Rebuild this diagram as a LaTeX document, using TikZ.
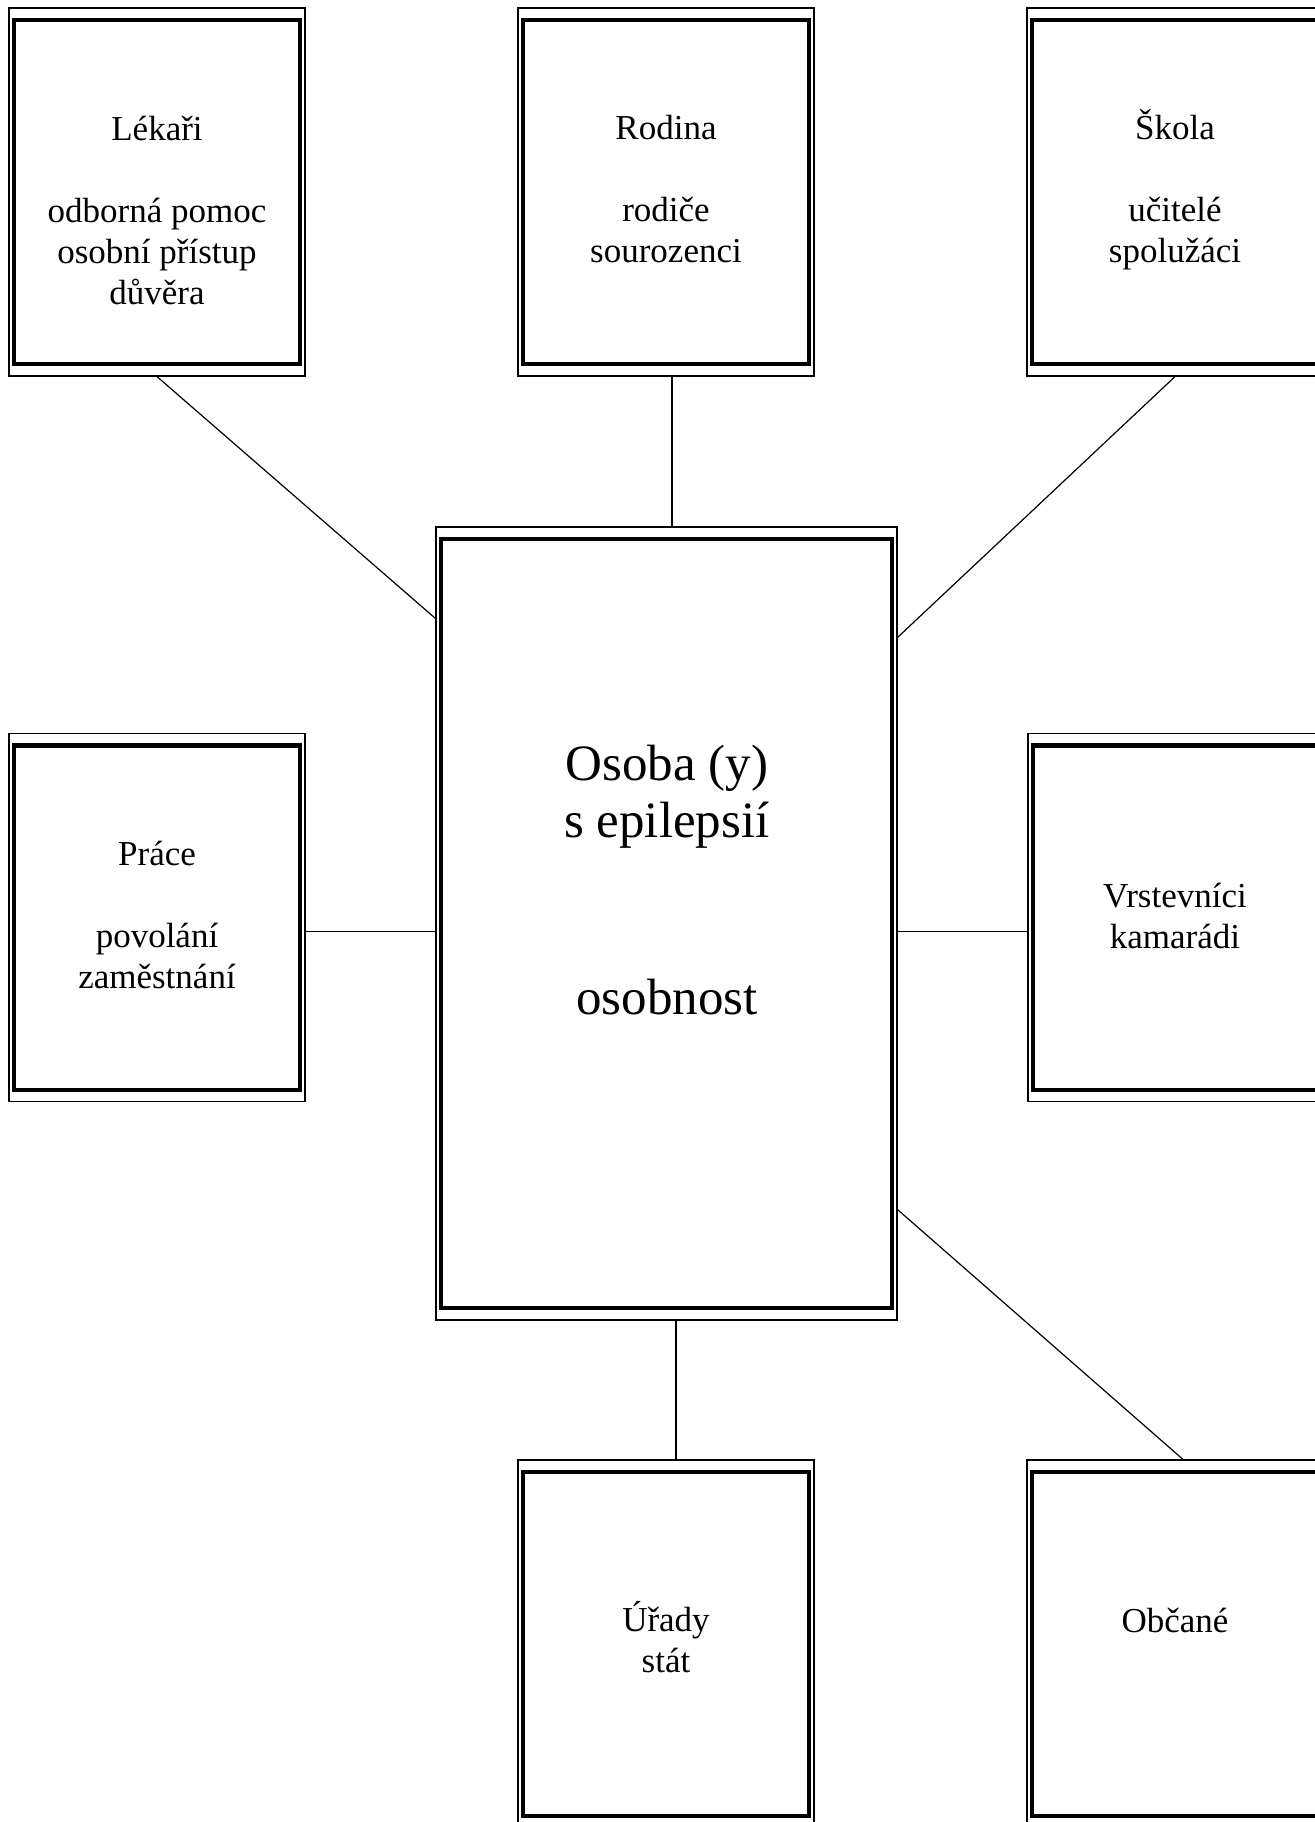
\documentclass[tikz,border=0pt]{standalone}
\usepackage{fontspec}
\setmainfont{Liberation Serif}
\usetikzlibrary{positioning}

\begin{document}
\begin{tikzpicture}[x=0.5pt, y=-0.5pt,
    box/.style={rectangle, draw=black, line width=0.6pt, inner sep=0pt, minimum width=148pt, minimum height=184pt,
        path picture={\draw[line width=2.2pt] ([xshift=2.4pt,yshift=-5.9pt]path picture bounding box.north west) rectangle ([xshift=-2.4pt,yshift=5.9pt]path picture bounding box.south east);}},
    bigbox/.style={box, minimum width=230.5pt, minimum height=396.5pt},
    txt/.style={align=center, inner sep=0pt, font=\fontsize{17.5pt}{20.5pt}\selectfont},
    bigtxt/.style={align=center, inner sep=0pt, font=\fontsize{25.5pt}{28.5pt}\selectfont},
    link/.style={draw=black, line width=0.6pt}]

    \useasboundingbox (0,0) rectangle (1314,1822);

    \node[bigbox] (osoba) at (666.5,923.5) {};
    \node[box] (lek) at (157,192) {};
    \node[box] (rod) at (666,192) {};
    \node[box] (sko) at (1175,192) {};
    \node[box] (pra) at (157,917.5) {};
    \node[box] (vrs) at (1176,917.5) {};
    \node[box] (ura) at (666,1644) {};
    \node[box] (obc) at (1175,1644) {};

    \node[bigtxt] (osobat) at (667,880) {Osoba (y)\\s epilepsií\\[60pt]osobnost};
    \node[txt] (lekt) at (157,210.5) {Lékaři\\[20.5pt]odborná pomoc\\osobní přístup\\důvěra};
    \node[txt] (rodt) at (666,189.5) {Rodina\\[20.5pt]rodiče\\sourozenci};
    \node[txt] (skot) at (1175,189.5) {Škola\\[20.5pt]učitelé\\spolužáci};
    \node[txt] (prat) at (157,915) {Práce\\[20.5pt]povolání\\zaměstnání};
    \node[txt] (vrst) at (1175,916) {Vrstevníci\\kamarádi};
    \node[txt] (urat) at (666,1637) {Úřady\\stát};
    \node[txt] (obct) at (1175,1620) {Občané};

    \draw[link] (lek.south) -- ([yshift=-46pt]osoba.north west);
    \draw[link] ([xshift=3pt]rod.south) -- ([xshift=3pt]rod.south |- osoba.north);
    \draw[link] (sko.south) -- ([yshift=-55.5pt]osoba.north east);
    \draw[link] ([yshift=-7pt]pra.east) -- ([yshift=-7pt]pra.east -| osoba.west);
    \draw[link] ([yshift=-7pt]vrs.west) -- ([yshift=-7pt]vrs.west -| osoba.east);
    \draw[link] ([yshift=55.5pt]osoba.south east) -- ([xshift=4pt]obc.north);
    \draw[link] ([xshift=5pt]ura.north) -- ([xshift=5pt]ura.north |- osoba.south);
\end{tikzpicture}
\end{document}
